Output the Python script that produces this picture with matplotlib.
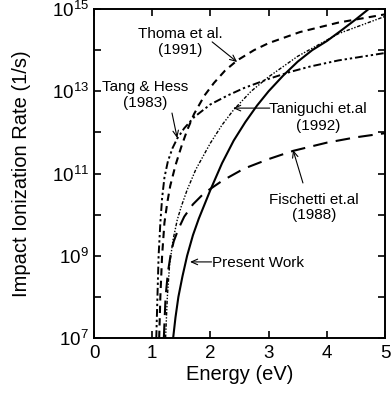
import matplotlib
matplotlib.use("Agg")
import matplotlib.pyplot as plt
import numpy as np

plt.rcParams['font.family'] = ['Liberation Sans', 'DejaVu Sans']

# Data: energy (eV) and log10 of rate (1/s)
present_E = [1.36, 1.40, 1.45, 1.52, 1.60, 1.70, 1.80, 1.90, 2.00, 2.20, 2.40, 2.60,
             2.80, 3.00, 3.25, 3.50, 3.75, 4.00, 4.25, 4.50, 4.72]
present_log = [7.0, 7.5, 8.0, 8.5, 9.0, 9.5, 9.9, 10.25, 10.6, 11.25, 11.8, 12.25,
               12.65, 13.0, 13.38, 13.72, 14.0, 14.22, 14.48, 14.75, 15.0]

thoma_E = [1.12, 1.14, 1.17, 1.21, 1.26, 1.31, 1.40, 1.50, 1.60, 1.72, 1.90, 2.06,
           2.25, 2.46, 2.75, 3.00, 3.54, 4.20, 5.00]
thoma_log = [7.0, 8.0, 9.0, 9.8, 10.3, 10.7, 11.2, 11.65, 12.05, 12.45, 12.9, 13.2,
             13.5, 13.75, 14.0, 14.17, 14.44, 14.67, 14.87]

tang_E = [1.07, 1.09, 1.11, 1.14, 1.17, 1.21, 1.27, 1.35, 1.43, 1.55, 1.72, 2.00,
          2.30, 2.58, 3.00, 3.37, 3.71, 4.20, 5.00]
tang_log = [7.0, 8.0, 9.0, 9.8, 10.4, 10.9, 11.3, 11.62, 11.85, 12.1, 12.37, 12.68,
            12.9, 13.08, 13.3, 13.47, 13.6, 13.75, 13.93]

tani_E = [1.23, 1.26, 1.30, 1.36, 1.43, 1.50, 1.60, 1.75, 2.00, 2.20, 2.40, 2.70,
          3.00, 3.50, 4.20, 5.00]
tani_log = [7.0, 8.0, 8.8, 9.4, 9.87, 10.2, 10.6, 11.1, 11.74, 12.18, 12.55, 13.0,
            13.35, 13.85, 14.4, 14.82]

fisc_E = [1.20, 1.23, 1.27, 1.32, 1.37, 1.45, 1.55, 1.70, 1.89, 2.20, 2.58, 3.00,
          3.42, 4.00, 4.50, 5.00]
fisc_log = [7.0, 8.0, 8.6, 9.05, 9.35, 9.65, 9.95, 10.25, 10.52, 10.82, 11.12, 11.35,
            11.55, 11.75, 11.88, 11.98]

xticks = [0, 1, 2, 3, 4, 5]
ymajor = [1e7, 1e9, 1e11, 1e13, 1e15]
ymajor_labels = [r'$\mathregular{10^{7}}$', r'$\mathregular{10^{9}}$', r'$\mathregular{10^{11}}$',
                 r'$\mathregular{10^{13}}$', r'$\mathregular{10^{15}}$']
yminor = [1e8, 1e10, 1e12, 1e14]

fig = plt.figure(figsize=(3.91, 3.93), dpi=100)
ax = fig.add_axes([94/391, 1 - 338/393, (385-94)/391, (338-9)/393])

def pw(v):
    return 10 ** np.array(v)

ax.plot(present_E, pw(present_log), color='black', lw=1.5, ls='-')
ax.plot(thoma_E, pw(thoma_log), color='black', lw=1.5, ls=(0, (3.5, 2.5)))
ax.plot(tang_E, pw(tang_log), color='black', lw=1.4, ls=(0, (4, 1.5, 1.2, 1.5, 1.2, 1.5)))
ax.plot(tani_E, pw(tani_log), color='black', lw=1.0, ls=(0, (2.5, 1.2, 1, 1.2, 1, 1.2)))
ax.plot(fisc_E, pw(fisc_log), color='black', lw=1.5, ls=(0, (7, 4)))

ax.set_yscale('log')
ax.set_xlim(0, 5)
ax.set_ylim(1e7, 1e15)
ax.set_xticks(xticks)
ax.set_yticks(ymajor)
ax.set_yticklabels(ymajor_labels)
ax.set_yticks(yminor, minor=True)
ax.yaxis.set_minor_formatter(matplotlib.ticker.NullFormatter())
ax.tick_params(which='both', direction='in', top=True, right=True, length=5, width=1.2,
               labelsize=13.5)
ax.tick_params(axis='x', pad=5)
for s in ax.spines.values():
    s.set_linewidth(1.4)

ax.set_xlabel('Energy (eV)', fontsize=14.5)
ax.set_ylabel('Impact Ionization Rate (1/s)', fontsize=14.5)
ax.xaxis.set_label_coords((240 - 94) / 291, -(365 - 338) / 329)
ax.yaxis.set_label_coords(-(94 - 31) / 291, (338 - 174) / 329)

afs = 11

def L(v):
    return 10 ** v

def arrow(tip, tail):
    ax.annotate('', xy=tip, xytext=tail,
                arrowprops=dict(arrowstyle='->,head_length=0.45,head_width=0.2',
                                color='black', lw=0.8, shrinkA=0, shrinkB=0))

ax.text(1.48, L(14.2), 'Thoma et al.\n(1991)', fontsize=afs, ha='center', va='center',
        linespacing=1.15)
arrow((2.46, L(13.71)), (2.03, L(14.2)))

ax.text(0.88, L(12.91), 'Tang & Hess\n(1983)', fontsize=afs, ha='center', va='center',
        linespacing=1.15)
arrow((1.43, L(11.86)), (1.34, L(12.47)))

ax.text(3.85, L(12.36), 'Taniguchi et.al\n(1992)', fontsize=afs, ha='center', va='center',
        linespacing=1.3)
arrow((2.39, L(12.59)), (3.02, L(12.59)))

ax.text(3.78, L(10.17), 'Fischetti et.al\n(1988)', fontsize=afs, ha='center', va='center',
        linespacing=1.15)
arrow((3.42, L(11.57)), (3.59, L(10.77)))

ax.text(2.02, L(8.83), 'Present Work', fontsize=afs, ha='left', va='center')
arrow((1.65, L(8.85)), (2.02, L(8.85)))

fig.savefig('out.png', dpi=100)
